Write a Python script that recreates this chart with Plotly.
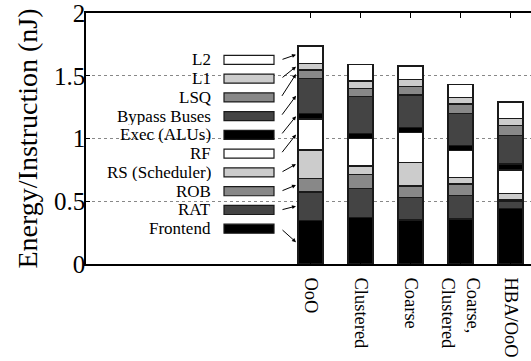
import plotly.graph_objects as go

# ---------------- data ----------------
categories = ["OoO", "Clustered", "Coarse", "Coarse,<br>Clustered", "HBA/OoO"]

# components, bottom of the stack first
components = ["Frontend", "RAT", "ROB", "RS (Scheduler)", "RF",
              "Exec (ALUs)", "Bypass Buses", "LSQ", "L1", "L2"]

frontend = [0.348, 0.369, 0.351, 0.359, 0.444]
rat      = [0.226, 0.234, 0.180, 0.185, 0.056]
rob      = [0.109, 0.112, 0.090, 0.093, 0.010]
rs       = [0.225, 0.066, 0.186, 0.051, 0.053]
rf       = [0.247, 0.220, 0.239, 0.215, 0.186]
exec_alu = [0.045, 0.040, 0.043, 0.040, 0.048]
bypass   = [0.280, 0.292, 0.257, 0.257, 0.228]
lsq      = [0.066, 0.067, 0.071, 0.075, 0.080]
l1       = [0.053, 0.058, 0.054, 0.050, 0.053]
l2       = [0.138, 0.133, 0.106, 0.107, 0.133]

series = [frontend, rat, rob, rs, rf, exec_alu, bypass, lsq, l1, l2]

y_ticks = [0, 0.5, 1, 1.5, 2]
y_tick_labels = ["0", "0.5", "1", "1.5", "2"]

# ---------------- styles ----------------
colors = ["#000000", "#444444", "#888888", "#cccccc", "#ffffff",
          "#000000", "#444444", "#888888", "#cccccc", "#ffffff"]
FONT = "Liberation Serif"

fig = go.Figure()
for name, vals, col in zip(components, series, colors):
    fig.add_trace(go.Bar(
        x=categories, y=vals, name=name, width=0.5,
        marker=dict(color=col, line=dict(color="#1a1a1a", width=1.3)),
        showlegend=False,
    ))

# ---------------- hand-made key with arrows ----------------
key_y0, key_step = 0.281, 0.1495
sw_x0, sw_x1, sw_h = -1.73, -0.73, 0.036
txt_x = -1.97
tail_x, head_x = -0.59, -0.29

shapes = [
    # opaque key background hiding the grid on the left
    dict(type="rect", xref="x", yref="y", x0=-4.49, x1=-0.52, y0=0.005, y1=1.995,
         fillcolor="white", line=dict(width=0), layer="below"),
]
annotations = []
first = [s[0] for s in series]
cum = 0.0
for i, (name, col) in enumerate(zip(components, colors)):
    ky = key_y0 + key_step * i
    shapes.append(dict(type="rect", xref="x", yref="y",
                       x0=sw_x0, x1=sw_x1, y0=ky - sw_h, y1=ky + sw_h,
                       fillcolor=col, line=dict(color="#1a1a1a", width=1.2)))
    annotations.append(dict(x=txt_x, y=ky, xref="x", yref="y", text=name,
                            showarrow=False, xanchor="right", yanchor="middle",
                            height=17, borderpad=0, valign="middle",
                            font=dict(family=FONT, size=17, color="black")))
    mid = cum + first[i] / 2
    cum += first[i]
    annotations.append(dict(x=head_x, y=mid, ax=tail_x, ay=ky,
                            xref="x", yref="y", axref="x", ayref="y",
                            text="", showarrow=True, arrowhead=2,
                            arrowsize=0.8, arrowwidth=1, arrowcolor="black"))

fig.update_layout(
    width=531, height=361,
    margin=dict(l=86, r=0, t=13, b=97),
    barmode="stack",
    plot_bgcolor="white", paper_bgcolor="white",
    font=dict(family=FONT, color="black"),
    shapes=shapes, annotations=annotations,
    xaxis=dict(range=[-4.49, 4.41], showline=True, linecolor="black", linewidth=1.5,
               mirror="allticks", ticks="inside", ticklen=5, tickcolor="black",
               tickangle=90, tickfont=dict(family=FONT, size=18.5, color="black"),
               showgrid=False, automargin=False, ticklabelstandoff=8),
    yaxis=dict(range=[0, 2], tickvals=y_ticks, ticktext=y_tick_labels,
               showline=True, linecolor="black", linewidth=1.5, mirror=False,
               ticks="inside", ticklen=4, tickcolor="black",
               ticklabeloverflow="allow", ticklabelstandoff=-6,
               tickfont=dict(family=FONT, size=25, color="black"),
               showgrid=True, gridcolor="#888888", griddash="dot", gridwidth=1,
               zeroline=False, automargin=False,
               title=dict(text="Energy/Instruction (nJ)", standoff=8,
                          font=dict(family=FONT, size=28, color="black"))),
)

fig.write_html("out.html", config={"displayModeBar": False},
               post_script="document.body.style.margin='0';document.body.style.overflow='hidden';")
